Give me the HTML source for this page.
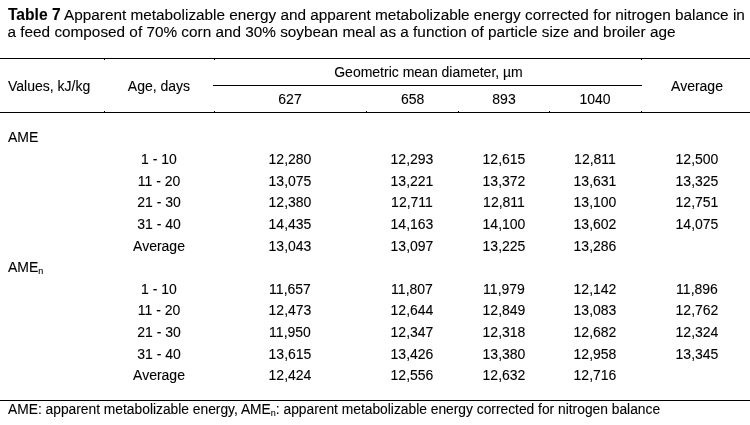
<!DOCTYPE html>
<html><head><meta charset="utf-8"><style>
html,body{margin:0;padding:0;background:#fff;}
body{width:750px;height:425px;position:relative;overflow:hidden;-webkit-text-stroke:0.1px #000;font-family:"Liberation Sans",Arial,sans-serif;color:#000;}
.c,.l,.t{position:absolute;white-space:nowrap;font-size:14px;line-height:20px;}
.c{text-align:center;}
.t{font-size:15.33px;}
.t b{font-size:15.6px;}
.r{position:absolute;height:1px;background:#000;}
sub{font-size:9px;line-height:0;vertical-align:-2px;}
</style></head><body>
<div class="t" style="left:8px;top:5px"><b>Table 7</b> Apparent metabolizable energy and apparent metabolizable energy corrected for nitrogen balance in</div>
<div class="t" style="left:7.5px;top:22px">a feed composed of 70% corn and 30% soybean meal as a function of particle size and broiler age</div>
<div class="r" style="left:0;top:58px;width:750px"></div>
<div class="r" style="left:213px;top:85px;width:429px"></div>
<div class="r" style="left:0;top:112px;width:750px"></div>
<div class="r" style="left:0;top:400px;width:750px"></div>
<div class="r" style="left:104px;top:59px;width:1px"></div>
<div class="r" style="left:214px;top:59px;width:1px"></div>
<div class="r" style="left:641px;top:59px;width:1px"></div>
<div class="r" style="left:104px;top:111px;width:1px"></div>
<div class="r" style="left:214px;top:111px;width:1px"></div>
<div class="r" style="left:366px;top:111px;width:1px"></div>
<div class="r" style="left:458px;top:111px;width:1px"></div>
<div class="r" style="left:549px;top:111px;width:1px"></div>
<div class="r" style="left:641px;top:111px;width:1px"></div>
<div class="l" style="left:8px;top:76px">Values, kJ/kg</div>
<div class="c" style="left:89.0px;top:76px;width:140px">Age, days</div>
<div class="c" style="left:278.5px;top:62px;width:300px">Geometric mean diameter, &micro;m</div>
<div class="c" style="left:220.0px;top:89px;width:140px">627</div>
<div class="c" style="left:342.7px;top:89px;width:140px">658</div>
<div class="c" style="left:434.0px;top:89px;width:140px">893</div>
<div class="c" style="left:525.0px;top:89px;width:140px">1040</div>
<div class="c" style="left:627.0px;top:76px;width:140px">Average</div>
<div class="l" style="left:8px;top:127px">AME</div>
<div class="l" style="left:8px;top:257px">AME<sub>n</sub></div>
<div class="c" style="left:89.0px;top:149px;width:140px">1 - 10</div>
<div class="c" style="left:220.0px;top:149px;width:140px">12,280</div>
<div class="c" style="left:342.0px;top:149px;width:140px">12,293</div>
<div class="c" style="left:434.0px;top:149px;width:140px">12,615</div>
<div class="c" style="left:525.0px;top:149px;width:140px">12,811</div>
<div class="c" style="left:627.0px;top:149px;width:140px">12,500</div>
<div class="c" style="left:89.0px;top:171px;width:140px">11 - 20</div>
<div class="c" style="left:220.0px;top:171px;width:140px">13,075</div>
<div class="c" style="left:342.0px;top:171px;width:140px">13,221</div>
<div class="c" style="left:434.0px;top:171px;width:140px">13,372</div>
<div class="c" style="left:525.0px;top:171px;width:140px">13,631</div>
<div class="c" style="left:627.0px;top:171px;width:140px">13,325</div>
<div class="c" style="left:89.0px;top:192px;width:140px">21 - 30</div>
<div class="c" style="left:220.0px;top:192px;width:140px">12,380</div>
<div class="c" style="left:342.0px;top:192px;width:140px">12,711</div>
<div class="c" style="left:434.0px;top:192px;width:140px">12,811</div>
<div class="c" style="left:525.0px;top:192px;width:140px">13,100</div>
<div class="c" style="left:627.0px;top:192px;width:140px">12,751</div>
<div class="c" style="left:89.0px;top:214px;width:140px">31 - 40</div>
<div class="c" style="left:220.0px;top:214px;width:140px">14,435</div>
<div class="c" style="left:342.0px;top:214px;width:140px">14,163</div>
<div class="c" style="left:434.0px;top:214px;width:140px">14,100</div>
<div class="c" style="left:525.0px;top:214px;width:140px">13,602</div>
<div class="c" style="left:627.0px;top:214px;width:140px">14,075</div>
<div class="c" style="left:89.0px;top:236px;width:140px">Average</div>
<div class="c" style="left:220.0px;top:236px;width:140px">13,043</div>
<div class="c" style="left:342.0px;top:236px;width:140px">13,097</div>
<div class="c" style="left:434.0px;top:236px;width:140px">13,225</div>
<div class="c" style="left:525.0px;top:236px;width:140px">13,286</div>
<div class="c" style="left:89.0px;top:279px;width:140px">1 - 10</div>
<div class="c" style="left:220.0px;top:279px;width:140px">11,657</div>
<div class="c" style="left:342.0px;top:279px;width:140px">11,807</div>
<div class="c" style="left:434.0px;top:279px;width:140px">11,979</div>
<div class="c" style="left:525.0px;top:279px;width:140px">12,142</div>
<div class="c" style="left:627.0px;top:279px;width:140px">11,896</div>
<div class="c" style="left:89.0px;top:300px;width:140px">11 - 20</div>
<div class="c" style="left:220.0px;top:300px;width:140px">12,473</div>
<div class="c" style="left:342.0px;top:300px;width:140px">12,644</div>
<div class="c" style="left:434.0px;top:300px;width:140px">12,849</div>
<div class="c" style="left:525.0px;top:300px;width:140px">13,083</div>
<div class="c" style="left:627.0px;top:300px;width:140px">12,762</div>
<div class="c" style="left:89.0px;top:322px;width:140px">21 - 30</div>
<div class="c" style="left:220.0px;top:322px;width:140px">11,950</div>
<div class="c" style="left:342.0px;top:322px;width:140px">12,347</div>
<div class="c" style="left:434.0px;top:322px;width:140px">12,318</div>
<div class="c" style="left:525.0px;top:322px;width:140px">12,682</div>
<div class="c" style="left:627.0px;top:322px;width:140px">12,324</div>
<div class="c" style="left:89.0px;top:344px;width:140px">31 - 40</div>
<div class="c" style="left:220.0px;top:344px;width:140px">13,615</div>
<div class="c" style="left:342.0px;top:344px;width:140px">13,426</div>
<div class="c" style="left:434.0px;top:344px;width:140px">13,380</div>
<div class="c" style="left:525.0px;top:344px;width:140px">12,958</div>
<div class="c" style="left:627.0px;top:344px;width:140px">13,345</div>
<div class="c" style="left:89.0px;top:365px;width:140px">Average</div>
<div class="c" style="left:220.0px;top:365px;width:140px">12,424</div>
<div class="c" style="left:342.0px;top:365px;width:140px">12,556</div>
<div class="c" style="left:434.0px;top:365px;width:140px">12,632</div>
<div class="c" style="left:525.0px;top:365px;width:140px">12,716</div>
<div class="l" style="left:8px;top:399px"><span style="font-size:13.8px">AME: apparent metabolizable energy, AME<sub>n</sub>: apparent metabolizable energy corrected for nitrogen balance</span></div>
</body></html>
